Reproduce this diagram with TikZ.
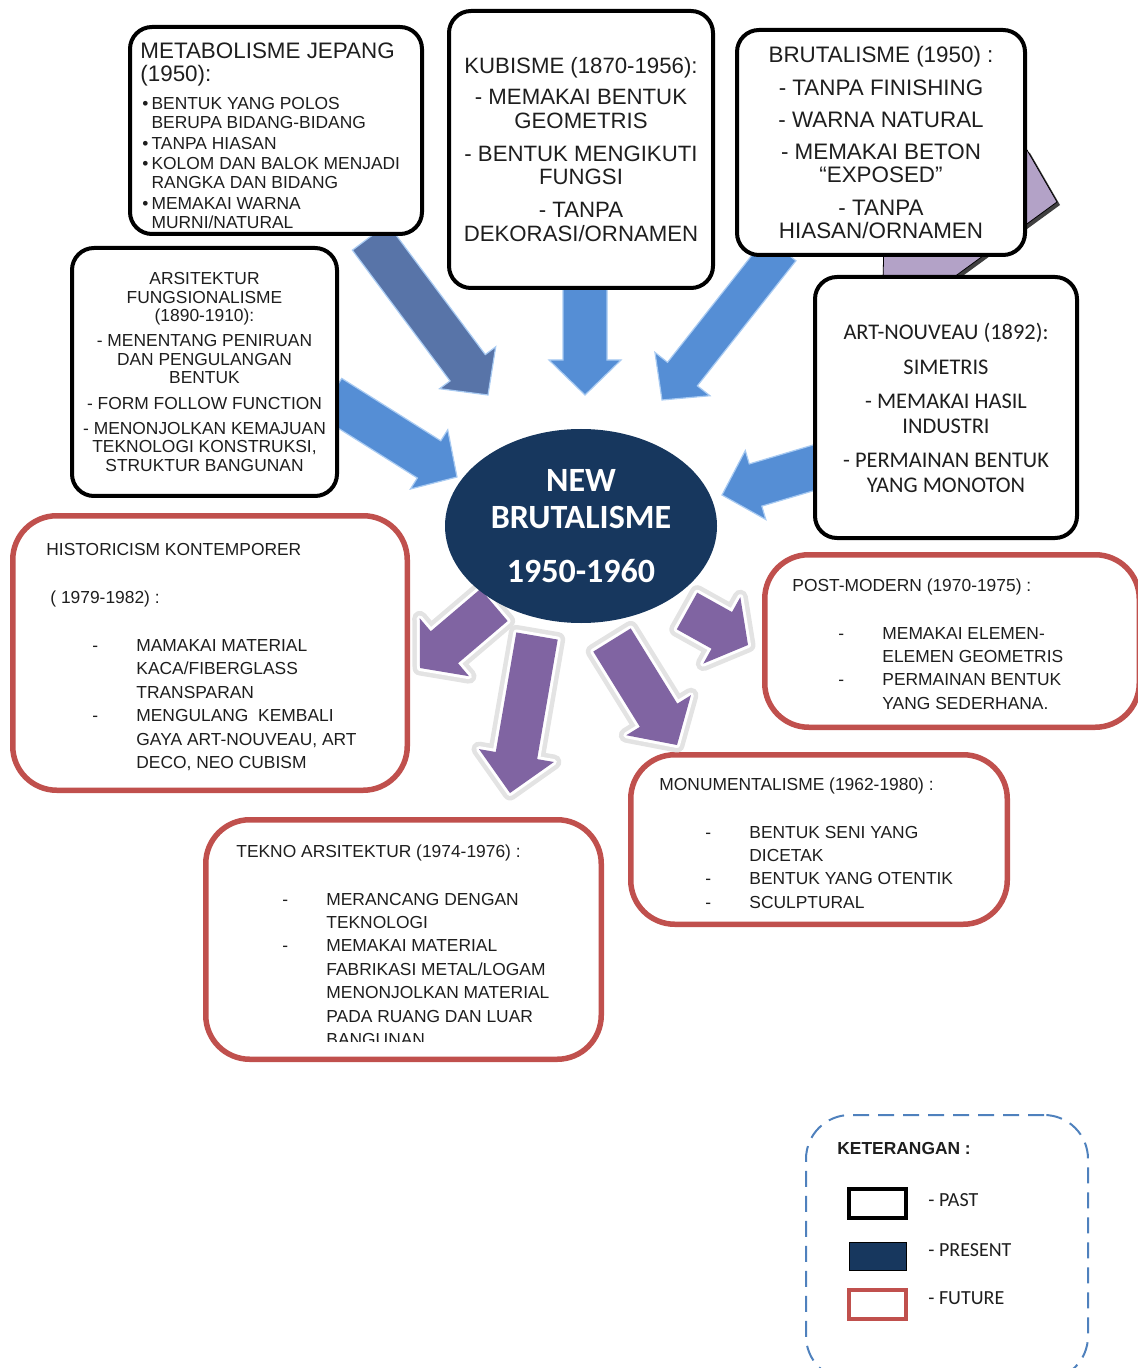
\documentclass[tikz,border=0pt]{standalone}
\usepackage{fontspec}
\setmainfont{Liberation Sans}
\newfontfamily\calibri{Carlito}
\usetikzlibrary{positioning,calc,shapes.geometric}

\definecolor{presentNavy}{HTML}{17375E}
\definecolor{futureRed}{HTML}{C0504D}
\definecolor{arrowBlue}{HTML}{558ED5}
\definecolor{arrowSteel}{HTML}{5874A8}
\definecolor{arrowEdge}{HTML}{A9CBF2}
\definecolor{arrowPurple}{HTML}{8064A2}
\definecolor{lightPurple}{HTML}{B3A2C7}
\definecolor{keyBlue}{HTML}{4F81BD}
\definecolor{inkText}{HTML}{1E1E1E}

% list helpers
\newcommand{\metaBullet}{\makebox[4.6pt][l]{\textbullet}}
\newcommand{\metaIndent}{\hspace*{4.6pt}}
\newcommand{\dashItem}{\hspace*{23pt}\makebox[22pt][l]{-}}
\newcommand{\itemIndent}{\hspace*{45pt}}

\begin{document}
\begin{tikzpicture}[x=0.5pt, y=-0.5pt,
		pastBox/.style={draw=black, line width=2pt, rounded corners=11pt, fill=white, inner sep=0pt, text=inkText, align=center},
		futureBox/.style={draw=futureRed, line width=2.75pt, rounded corners=22pt, fill=white, inner sep=0pt},
		bigText/.style={font=\fontsize{11.2}{11.5}\selectfont},
		listText/.style={anchor=north west, inner sep=0pt, align=left, text=inkText, font=\fontsize{8.7}{11.7}\selectfont},
		blueArrow/.style={fill=arrowBlue, draw=arrowEdge, line width=0.6pt},
		steelArrow/.style={fill=arrowSteel, draw=arrowEdge, line width=0.6pt},
		purpleArrow/.style={fill=arrowPurple,
			preaction={draw=black!11, line width=7.5pt, line join=round},
			preaction={draw=white, line width=3pt, line join=round}},
		keySwatch/.style={minimum width=28.5pt, minimum height=14.5pt, inner sep=0pt, fill=white},
		keyLabel/.style={inner sep=0pt, font=\calibri\fontsize{10}{12}\selectfont, text=inkText}]
	\useasboundingbox (0,0) rectangle (1137,1368);
	\newcommand{\blockArrow}[6]{
		% draws a block arrow
		% args:
		%     start coordinate
		%     tip coordinate
		%     half width of the shaft
		%     half width of the head
		%     length of the head
		%     style
		\coordinate (head_base) at ($(#2)!#5!(#1)$);
		\path[#6] ($(#1)!#3!90:(#2)$) -- ($(head_base)!#3!-90:(#1)$)
			-- ($(head_base)!#4!-90:(#1)$) -- (#2)
			-- ($(head_base)!#4!90:(#1)$) -- ($(head_base)!#3!90:(#1)$)
			-- ($(#1)!#3!-90:(#2)$) -- cycle;
	}
	%
	% arrow hidden behind brutalisme
	\fill[black!75] (886,283) -- (953,283) -- (1060,205) -- (1030,153) -- (1003,143) -- (888,203) -- cycle;
	\filldraw[fill=lightPurple, draw=black, line width=0.4pt] (883,280) -- (950,280) -- (1057,202) -- (1027,150) -- (1000,140) -- (885,200) -- cycle;
	% arrows from the past
	\coordinate (from_meta) at (370,237);
	\coordinate (to_meta) at (488,395);
	\coordinate (from_arsi) at (330,397);
	\coordinate (to_arsi) at (457,477);
	\coordinate (from_kubi) at (585,280);
	\coordinate (to_kubi) at (585,395);
	\coordinate (from_brut) at (781,249);
	\coordinate (to_brut) at (662,400);
	\coordinate (from_artn) at (823,465);
	\coordinate (to_artn) at (722,495);
	\blockArrow{from_meta}{to_meta}{11pt}{17.5pt}{17pt}{steelArrow}
	\blockArrow{from_arsi}{to_arsi}{11pt}{17.5pt}{16.5pt}{blueArrow}
	\blockArrow{from_kubi}{to_kubi}{11pt}{18pt}{17.5pt}{blueArrow}
	\blockArrow{from_brut}{to_brut}{9.5pt}{17.5pt}{16.5pt}{blueArrow}
	\blockArrow{from_artn}{to_artn}{11pt}{18pt}{17.5pt}{blueArrow}
	%
	% past
	\node[pastBox, minimum width=146pt, minimum height=103.5pt] (box_meta) at (276,130.5) {};
	\node[anchor=north west, inner sep=0pt, align=left, text=inkText, bigText] (title_meta)
		at ($(box_meta.north west)+(12,17)$) {METABOLISME JEPANG\\(1950):};
	\node[anchor=north west, inner sep=0pt, align=left, text=inkText, font=\fontsize{8.7}{9.5}\selectfont] (list_meta)
		at ($(box_meta.north west)+(14,72)$) {%
		\metaBullet BENTUK YANG POLOS\\
		\metaIndent BERUPA BIDANG-BIDANG\\[0.8pt]
		\metaBullet TANPA HIASAN\\[0.8pt]
		\metaBullet KOLOM DAN BALOK MENJADI\\
		\metaIndent RANGKA DAN BIDANG\\[0.8pt]
		\metaBullet MEMAKAI WARNA\\
		\metaIndent MURNI/NATURAL};
	\node[pastBox, minimum width=132pt, minimum height=138.5pt, font=\fontsize{11.1}{11.7}\selectfont] (box_kubi) at (581,149.5)
		{KUBISME (1870-1956):\\[3.8pt]- MEMAKAI BENTUK\\GEOMETRIS\\[4.8pt]- BENTUK MENGIKUTI\\FUNGSI\\[4.8pt]- TANPA\\DEKORASI/ORNAMEN};
	\node[pastBox, minimum width=144pt, minimum height=112.5pt, bigText] (box_brut) at (881,142.5)
		{BRUTALISME (1950) :\\[4.7pt]- TANPA FINISHING\\[4.7pt]- WARNA NATURAL\\[4.7pt]- MEMAKAI BETON\\“EXPOSED”\\[4.7pt]- TANPA\\HIASAN/ORNAMEN};
	\node[pastBox, minimum width=132.5pt, minimum height=124pt, font=\fontsize{8.7}{9.2}\selectfont] (box_arsi) at (204.5,372)
		{ARSITEKTUR\\FUNGSIONALISME\\(1890-1910):\\[3.3pt]- MENENTANG PENIRUAN\\DAN PENGULANGAN\\BENTUK\\[3.7pt]- FORM FOLLOW FUNCTION\\[3.3pt]- MENONJOLKAN KEMAJUAN\\TEKNOLOGI KONSTRUKSI,\\STRUKTUR BANGUNAN};
	\node[pastBox, minimum width=131pt, minimum height=130.5pt, font=\calibri\fontsize{11.2}{12.5}\selectfont] (box_artn) at (946,407.5)
		{ART-NOUVEAU (1892):\\[5pt]SIMETRIS\\[4.5pt]- MEMAKAI HASIL\\INDUSTRI\\[4.5pt]- PERMAINAN BENTUK\\YANG MONOTON};
	%
	% future
	\node[futureBox, minimum width=197.25pt, minimum height=137.25pt] (box_hist) at (210,653) {};
	\node[listText] (text_hist) at ($(box_hist.north west)+(36,30)$) {%
		HISTORICISM KONTEMPORER\\[12.3pt]
		\hspace*{2pt}( 1979-1982) :\\[12.3pt]
		\dashItem MAMAKAI MATERIAL\\
		\itemIndent KACA/FIBERGLASS\\
		\itemIndent TRANSPARAN\\
		\dashItem MENGULANG\ \ KEMBALI\\
		\itemIndent GAYA ART-NOUVEAU, ART\\
		\itemIndent DECO, NEO CUBISM};
	\node[futureBox, minimum width=187.25pt, minimum height=86.25pt] (box_post) at (952,641) {};
	\node[listText] (text_post) at ($(box_post.north west)+(30,26)$) {%
		POST-MODERN (1970-1975) :\\[12.3pt]
		\dashItem MEMAKAI ELEMEN-\\
		\itemIndent ELEMEN GEOMETRIS\\
		\dashItem PERMAINAN BENTUK\\
		\itemIndent YANG SEDERHANA.};
	\node[futureBox, minimum width=188.25pt, minimum height=84.75pt] (box_monu) at (819,839.5) {};
	\node[listText] (text_monu) at ($(box_monu.north west)+(31,25)$) {%
		MONUMENTALISME (1962-1980) :\\[12.3pt]
		\dashItem BENTUK SENI YANG\\
		\itemIndent DICETAK\\
		\dashItem BENTUK YANG OTENTIK\\
		\dashItem SCULPTURAL};
	\node[futureBox, minimum width=197.75pt, minimum height=119.75pt] (box_tekno) at (403.5,939.5) {};
	\begin{scope}
		\clip (203,817) rectangle (604,1041);
		\node[listText] (text_tekno) at ($(box_tekno.north west)+(33,27)$) {%
			TEKNO ARSITEKTUR (1974-1976) :\\[12.3pt]
			\dashItem MERANCANG DENGAN\\
			\itemIndent TEKNOLOGI\\
			\dashItem MEMAKAI MATERIAL\\
			\itemIndent FABRIKASI METAL/LOGAM\\
			\itemIndent MENONJOLKAN MATERIAL\\
			\itemIndent PADA RUANG DAN LUAR\\
			\itemIndent BANGUNAN};
	\end{scope}
	%
	% arrows to the future
	\coordinate (from_hist) at (494,605);
	\coordinate (to_hist) at (420,668);
	\coordinate (from_tekno) at (537,636);
	\coordinate (to_tekno) at (510,793);
	\coordinate (from_monu) at (612,640);
	\coordinate (to_monu) at (677,745);
	\coordinate (from_post) at (687,611);
	\coordinate (to_post) at (748,645);
	\blockArrow{from_hist}{to_hist}{10.5pt}{19pt}{16pt}{purpleArrow}
	\blockArrow{from_tekno}{to_tekno}{10.5pt}{19pt}{19pt}{purpleArrow}
	\blockArrow{from_monu}{to_monu}{11pt}{19pt}{17.5pt}{purpleArrow}
	\blockArrow{from_post}{to_post}{10.5pt}{19pt}{15pt}{purpleArrow}
	%
	% present
	\node[ellipse, fill=presentNavy, minimum width=136pt, minimum height=97pt, inner sep=0pt, text=white, align=center,
		font=\calibri\bfseries\fontsize{17}{18.5}\selectfont] (nb) at (581,526) {NEW\\BRUTALISME\\[8.5pt]1950-1960};
	%
	% keterangan
	\node[draw=keyBlue, dash pattern=on 8pt off 4.5pt, line width=1pt, rounded corners=22pt,
		minimum width=141pt, minimum height=132.5pt] (legend) at (947,1247.5) {};
	\node[anchor=west, inner sep=0pt, text=inkText, font=\bfseries\fontsize{8.7}{10}\selectfont] (legend_title) at (837,1148) {KETERANGAN :};
	\node[keySwatch, draw=black, line width=2pt] (key_past) at (877.5,1203.5) {};
	\node[keySwatch, fill=presentNavy, draw=black, line width=0.5pt, minimum height=14pt] (key_present) at (878,1256.5) {};
	\node[keySwatch, draw=futureRed, line width=2pt] (key_future) at (877.5,1304.5) {};
	\node[keyLabel, right=10pt of key_past, yshift=1.5pt] (label_past) {- PAST};
	\node[keyLabel, right=10.5pt of key_present, yshift=3pt] (label_present) {- PRESENT};
	\node[keyLabel, right=10pt of key_future, yshift=3pt] (label_future) {- FUTURE};
\end{tikzpicture}
\end{document}
